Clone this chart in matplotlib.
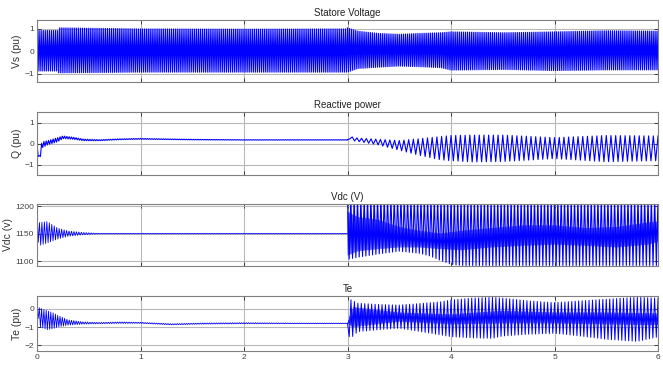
import numpy as np
import matplotlib.pyplot as plt

plt.rcParams['font.family'] = ['Liberation Sans', 'DejaVu Sans']

# x axis
xticks = [0, 1, 2, 3, 4, 5, 6]

# Statore voltage envelope (pu), ~50 cycles per second
vs_t = [0, 0.2, 0.21, 1.0, 2.0, 2.99, 3.0, 3.1, 3.3, 3.5, 3.7, 3.9, 4.0, 4.5, 5.0, 5.5, 6.0]
vs_hi = [0.93, 0.93, 1.05, 1.0, 0.99, 1.0, 1.05, 0.9, 0.8, 0.76, 0.8, 0.83, 0.87, 0.83, 0.87, 0.92, 0.9]
vs_lo = [-0.87, -0.87, -0.95, -0.92, -0.92, -0.92, -0.92, -0.76, -0.7, -0.65, -0.68, -0.72, -0.83, -0.8, -0.85, -0.82, -0.82]
vs_rate = 50

# Reactive power (pu)
q_t1 = [0, 0.005, 0.04, 0.045, 0.1, 0.2, 0.25, 0.35, 0.45, 0.6, 0.8, 1.0, 1.5, 2.0, 3.0]
q_hi1 = [0.0, -0.55, -0.55, 0.1, 0.15, 0.3, 0.38, 0.32, 0.23, 0.2, 0.24, 0.26, 0.22, 0.2, 0.2]
q_lo1 = [0.0, -0.6, -0.6, -0.2, -0.05, 0.1, 0.25, 0.22, 0.15, 0.15, 0.2, 0.22, 0.19, 0.18, 0.18]
q_t2 = [3.0, 3.02, 3.05, 3.1, 3.3, 3.5, 3.7, 3.9, 4.0, 4.2, 4.5, 5.0, 5.5, 6.0]
q_hi2 = [0.2, 0.5, 0.3, 0.28, 0.22, 0.16, 0.25, 0.35, 0.4, 0.42, 0.42, 0.3, 0.4, 0.38]
q_lo2 = [0.18, 0.25, 0.15, 0.12, -0.05, -0.3, -0.55, -0.76, -0.8, -0.86, -0.84, -0.7, -0.85, -0.8]
q_rate1 = 45
q_rate2 = 22

# DC link voltage (V)
vdc_t1 = [0, 0.005, 0.02, 0.1, 0.2, 0.3, 0.45, 0.6, 3.0]
vdc_hi1 = [1190, 1188, 1170, 1172, 1160, 1155, 1152, 1150.5, 1150.5]
vdc_lo1 = [1150, 1140, 1128, 1133, 1140, 1145, 1148, 1149.5, 1149.5]
vdc_t2 = [3.0, 3.1, 3.3, 3.5, 3.7, 3.8, 3.9, 4.0, 4.1, 6.0]
vdc_hi2 = [1215, 1215, 1215, 1215, 1215, 1215, 1215, 1215, 1215, 1215]
vdc_lo2 = [1103, 1107, 1113, 1118, 1114, 1109, 1101, 1094, 1092, 1092]
vdc_band_t = [3.0, 3.1, 3.3, 3.5, 3.7, 3.9, 4.1, 4.4, 4.7, 5.0, 5.3, 5.6, 5.9, 6.0]
vdc_band_hi = [1190, 1180, 1175, 1162, 1155, 1150, 1155, 1160, 1165, 1165, 1160, 1162, 1170, 1172]
vdc_band_lo = [1110, 1118, 1122, 1125, 1125, 1122, 1120, 1125, 1128, 1130, 1128, 1125, 1130, 1135]
vdc_rate1 = 42
vdc_rate2 = 31
vdc_band_rate = 100

# Electromagnetic torque (pu)
te_t1 = [0, 0.01, 0.03, 0.1, 0.15, 0.2, 0.3, 0.45, 0.6, 0.8, 1.0, 1.3, 1.6, 2.0, 2.5, 3.0]
te_hi1 = [0.05, 0.1, 0.05, -0.1, -0.2, -0.35, -0.6, -0.72, -0.75, -0.72, -0.74, -0.82, -0.78, -0.76, -0.78, -0.78]
te_lo1 = [0.0, -0.5, -1.0, -1.15, -1.1, -1.0, -0.9, -0.84, -0.82, -0.8, -0.8, -0.88, -0.84, -0.82, -0.82, -0.82]
te_t2 = [3.0, 3.02, 3.1, 3.3, 3.5, 3.7, 3.9, 4.0, 4.2, 4.4, 4.5, 4.75, 5.0, 5.25, 5.5, 5.8, 6.0]
te_hi2 = [-0.8, 0.55, 0.32, 0.25, 0.22, 0.3, 0.4, 0.5, 0.6, 0.65, 0.6, 0.45, 0.35, 0.45, 0.54, 0.65, 0.6]
te_lo2 = [-0.8, -1.68, -1.26, -1.15, -1.07, -1.25, -1.44, -1.54, -1.6, -1.63, -1.5, -1.4, -1.35, -1.5, -1.68, -1.8, -1.55]
te_band_t = [3.0, 3.05, 3.5, 4.0, 4.5, 5.0, 5.5, 6.0]
te_band_hi = [-0.8, 0.1, -0.2, -0.3, -0.1, -0.2, -0.2, -0.25]
te_band_lo = [-0.8, -1.0, -0.7, -0.85, -0.8, -0.8, -0.85, -0.9]
te_rate1 = 45
te_rate2 = 30
te_band_rate = 90

titles = ['Statore Voltage', 'Reactive power', 'Vdc (V)', 'Te']
ylabels = ['Vs (pu)', 'Q (pu)', 'Vdc (v)', 'Te (pu)']
yticks = [[-1, 0, 1], [-1, 0, 1], [1100, 1150, 1200], [-2, -1, 0]]
ylims = [(-1.36, 1.4), (-1.48, 1.52), (1091, 1204), (-2.33, 0.72)]

BLUE = '#0000ff'


def oscillate(tk, hi, lo, rate):
    # trace swinging between the read-off upper and lower envelopes
    t0, t1 = tk[0], tk[-1]
    n = max(int(round((t1 - t0) * rate * 2)), 1)
    tt = np.linspace(t0, t1, n + 1)
    up = np.interp(tt, tk, hi)
    dn = np.interp(tt, tk, lo)
    yy = np.where(np.arange(n + 1) % 2 == 0, up, dn)
    return tt, yy


fig = plt.figure(figsize=(6.63, 3.68), dpi=100)
rects = [
    (0.0558, 0.7772, 0.9367, 0.1685),
    (0.0558, 0.5245, 0.9367, 0.1712),
    (0.0558, 0.2772, 0.9367, 0.1685),
    (0.0558, 0.0462, 0.9367, 0.1495),
]
axes = [fig.add_axes(r) for r in rects]

ax = axes[0]
ax.plot(*oscillate(vs_t, vs_hi, vs_lo, vs_rate), color=BLUE, lw=0.9)

ax = axes[1]
ax.plot(*oscillate(q_t1, q_hi1, q_lo1, q_rate1), color=BLUE, lw=0.8)
ax.plot(*oscillate(q_t2, q_hi2, q_lo2, q_rate2), color=BLUE, lw=0.8)

ax = axes[2]
ax.plot(*oscillate(vdc_t1, vdc_hi1, vdc_lo1, vdc_rate1), color=BLUE, lw=0.6)
ax.plot(*oscillate(vdc_band_t, vdc_band_hi, vdc_band_lo, vdc_band_rate), color=BLUE, lw=0.4)
ax.plot(*oscillate(vdc_t2, vdc_hi2, vdc_lo2, vdc_rate2), color=BLUE, lw=0.8)

ax = axes[3]
ax.plot(*oscillate(te_t1, te_hi1, te_lo1, te_rate1), color=BLUE, lw=0.6)
ax.plot(*oscillate(te_band_t, te_band_hi, te_band_lo, te_band_rate), color=BLUE, lw=0.4)
ax.plot(*oscillate(te_t2, te_hi2, te_lo2, te_rate2), color=BLUE, lw=0.7)

for i, ax in enumerate(axes):
    ax.set_xlim(0, 6)
    ax.set_ylim(*ylims[i])
    ax.set_xticks(xticks)
    ax.set_yticks(yticks[i])
    ax.grid(True, color='#b8b8b8', lw=0.8)
    ax.set_axisbelow(True)
    for s in ax.spines.values():
        s.set_color('#808080')
        s.set_linewidth(0.8)
    ax.tick_params(direction='in', length=3, width=0.7, colors='#404040',
                   labelsize=6, top=True, right=True, pad=2)
    ax.set_title(titles[i], fontsize=7, color='#222222', pad=3)
    ax.set_ylabel(ylabels[i], fontsize=7.5, color='#333333', labelpad=2)
    if i < 3:
        ax.tick_params(labelbottom=False)

plt.savefig('out.png', dpi=100)
